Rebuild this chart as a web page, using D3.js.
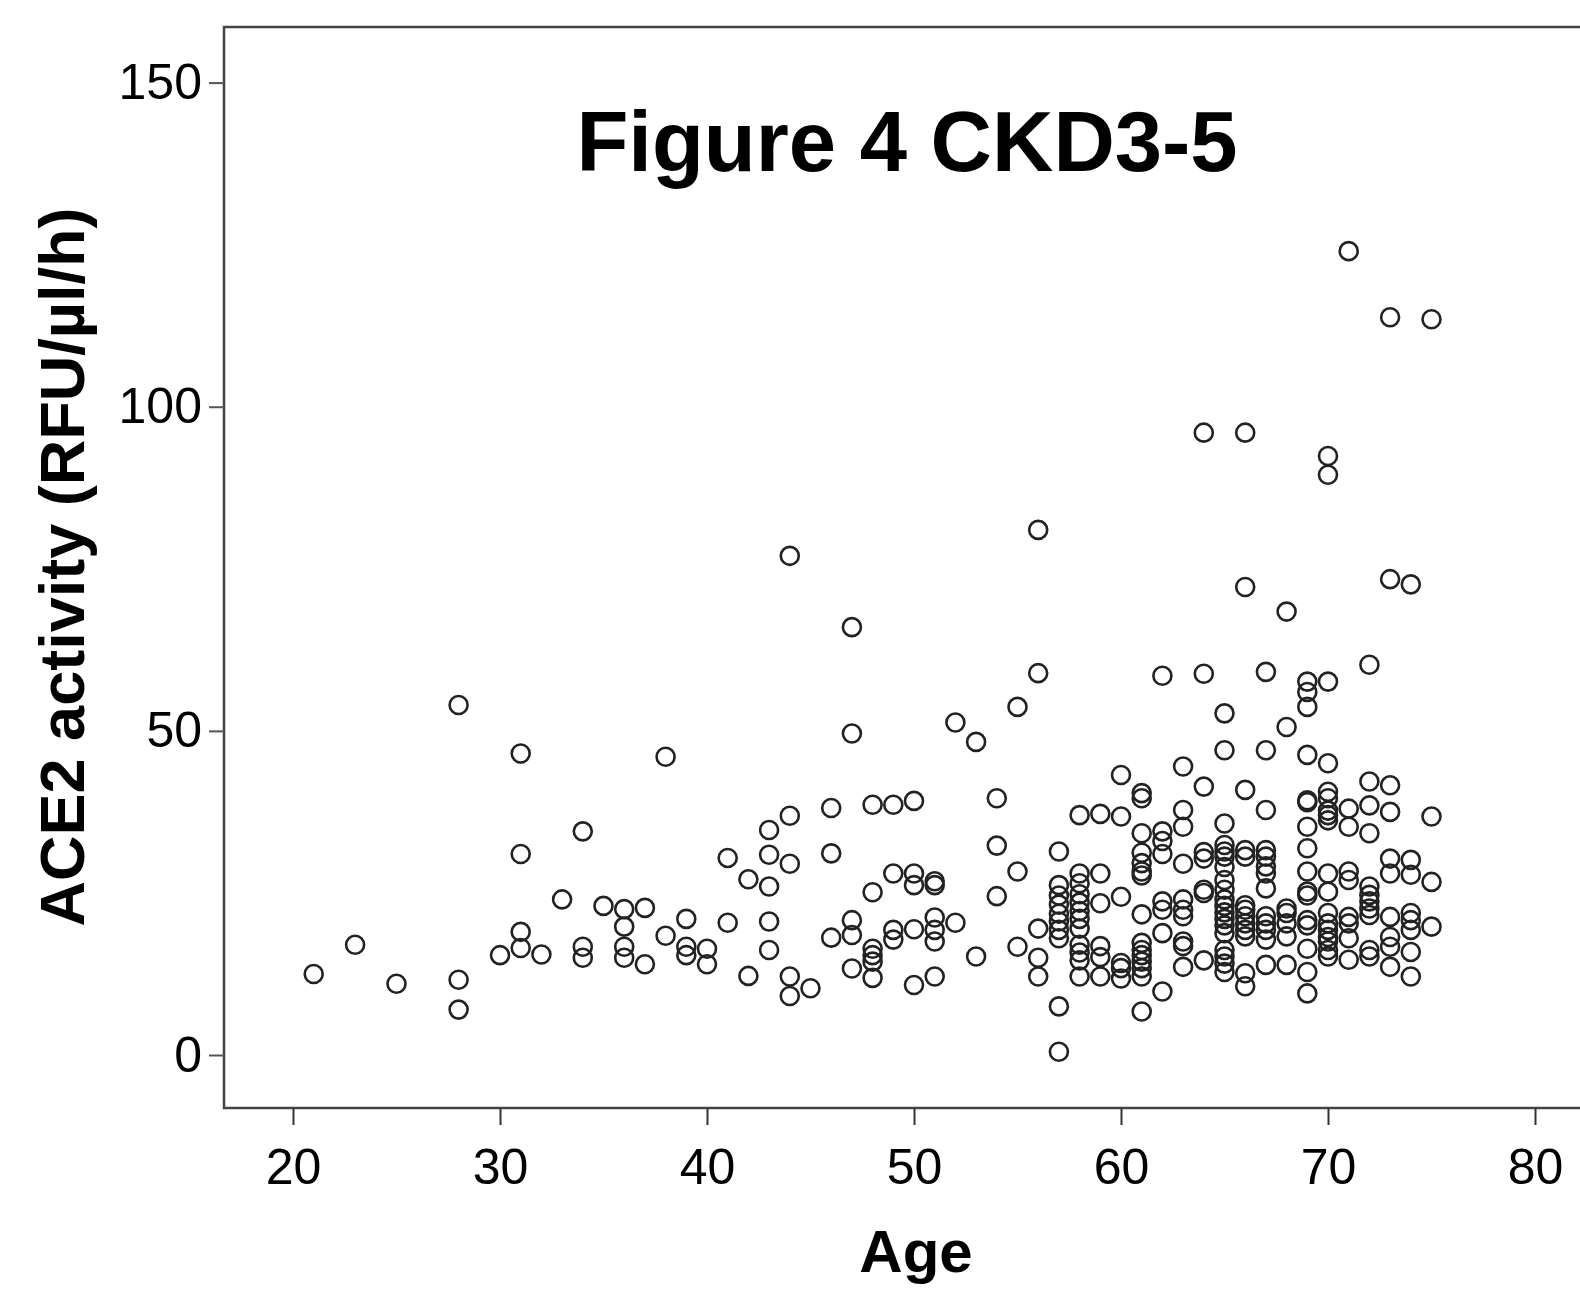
<!DOCTYPE html>
<html>
<head>
<meta charset="utf-8">
<script src="https://cdn.jsdelivr.net/npm/d3@7"></script>
<style>
  body { margin: 0; background: #fff; }
  text { font-family: "Liberation Sans", Arial, sans-serif; fill: #000; }
</style>
</head>
<body>
<svg id="chart" width="1580" height="1299"></svg>
<script>
// ages (x) and the activity values read at each age (y)
var ages = [21, 23, 25, 28, 30, 31, 32, 33, 34, 35, 36, 37, 38, 39, 40, 41, 42, 43, 44, 45,
            46, 47, 48, 49, 50, 51, 52, 53, 54, 55, 56, 57, 58, 59, 60, 61, 62, 63, 64, 65,
            66, 67, 68, 69, 70, 71, 72, 73, 74, 75];

var activity = [
  [12.5], [17], [11], [54, 11.6, 7], [15.4],
  [46.5, 31, 19, 16.5], [15.5], [24], [34.5, 16.7, 15], [23],
  [22.5, 19.8, 16.7, 15], [22.7, 14], [46, 18.4], [21, 16.7, 15.4], [16.4, 14],
  [30.4, 20.4], [27.1, 12.2], [34.7, 30.9, 26, 20.6, 16.2], [77, 36.9, 29.5, 12.1, 9.1], [10.3],
  [38.1, 31.1, 18.1], [66, 49.6, 20.8, 18.5, 13.35], [38.6, 25.1, 16.4, 15.4, 14.4, 11.9],
  [38.6, 28, 19.3, 17.8], [39.2, 28, 26.2, 19.4, 10.8], [26.8, 26.2, 21.2, 19.3, 17.5, 12.1],
  [51.3, 20.4], [48.3, 15.2], [39.6, 32.3, 24.5], [53.7, 28.3, 16.7],
  [81, 58.9, 19.5, 15, 12.1],
  [31.4, 26.2, 24.6, 23.2, 21.8, 20.6, 19.3, 18, 7.5, 0.5],
  [37, 28, 26.5, 24.8, 23.5, 22.2, 21, 19.5, 17, 15.8, 14.6, 12.1],
  [37.2, 28, 23.4, 16.8, 15.1, 12.1],
  [43.2, 36.8, 24.4, 14.2, 13.4, 11.8],
  [40.4, 39.6, 34.2, 31.2, 29.6, 28.3, 27.7, 21.7, 17.3, 16.2, 15.4, 14.4, 13.4, 12.1, 6.7],
  [58.5, 34.5, 33, 31, 23.7, 22.4, 18.8, 9.8],
  [44.5, 37.8, 35.2, 29.5, 24, 22.4, 21.4, 17.5, 16.8, 13.6],
  [96, 58.8, 41.4, 31.3, 30.3, 25.5, 25, 14.6],
  [52.7, 47, 35.7, 32.4, 31.4, 30.6, 29, 27, 25.5, 24, 23, 22, 21, 20, 18.8, 16.2, 15.2, 14.1, 12.8],
  [96, 72.2, 40.9, 31.6, 30.6, 23.1, 22.4, 21.4, 20.3, 19.3, 18.3, 12.6, 10.6],
  [59.1, 47, 37.8, 31.6, 30.6, 29.1, 28, 25.7, 21.4, 20.3, 19.3, 17.8, 13.9],
  [68.4, 50.6, 22.6, 21.9, 20.3, 18.3, 13.9],
  [57.6, 56, 53.7, 46.3, 39.3, 39, 35.2, 31.9, 28.3, 25.2, 24.6, 20.8, 20, 16.4, 12.8, 9.5],
  [92.4, 89.5, 57.6, 45, 40.6, 39.6, 37.7, 37, 36.2, 28, 25.2, 21.9, 20.3, 19.3, 18.2, 17.5, 16.2, 15.2],
  [124, 38, 35.2, 28.3, 27, 21.3, 20.3, 18, 14.7],
  [60.2, 42.2, 38.5, 34.2, 26, 24.7, 23.7, 22.6, 21.6, 16.2, 15.2],
  [113.8, 73.4, 41.6, 37.5, 30.3, 28, 21.3, 18.2, 16.7, 13.6],
  [72.6, 30.1, 27.8, 21.9, 20.8, 19.3, 15.9, 12.1],
  [113.5, 36.8, 26.7, 19.8]
];

var xTicks = [20, 30, 40, 50, 60, 70, 80];
var yTicks = [0, 50, 100, 150];

// flatten into points
var points = [];
for (var i = 0; i < ages.length; i++) {
  for (var j = 0; j < activity[i].length; j++) {
    points.push({ age: ages[i], value: activity[i][j] });
  }
}

var svg = d3.select('#chart');

var x = d3.scaleLinear().domain([20, 80]).range([293, 1535]);
var y = d3.scaleLinear().domain([0, 150]).range([1055, 82.6]);

var frameLeft = 224, frameTop = 27, frameBottom = 1108;

// frame (right side runs off the picture)
svg.append('rect')
  .attr('x', frameLeft)
  .attr('y', frameTop)
  .attr('width', 1700 - frameLeft)
  .attr('height', frameBottom - frameTop)
  .style('fill', 'none')
  .style('stroke', '#444')
  .style('stroke-width', 2.5);

// y axis
var yAxis = svg.append('g')
  .attr('transform', 'translate(' + frameLeft + ',0)')
  .call(d3.axisLeft(y).tickValues(yTicks).tickSize(15).tickPadding(7));
yAxis.select('.domain').remove();
yAxis.selectAll('line').style('stroke', '#555').style('stroke-width', 2);
yAxis.selectAll('text').style('font-size', '50px').attr('font-family', null);

// x axis
var xAxis = svg.append('g')
  .attr('transform', 'translate(0,' + frameBottom + ')')
  .call(d3.axisBottom(x).tickValues(xTicks).tickSize(17).tickPadding(23));
xAxis.select('.domain').remove();
xAxis.selectAll('line').style('stroke', '#333').style('stroke-width', 2);
xAxis.selectAll('text').style('font-size', '50px').attr('font-family', null);

// points
svg.append('g')
  .selectAll('.pt')
  .data(points)
  .enter()
  .append('circle')
  .attr('class', 'pt')
  .attr('cx', function(d) { return x(d.age); })
  .attr('cy', function(d) { return y(d.value); })
  .attr('r', 9)
  .style('fill', 'none')
  .style('stroke', '#222')
  .style('stroke-width', 2.6);

// title
svg.append('text')
  .attr('x', 907)
  .attr('y', 171)
  .attr('text-anchor', 'middle')
  .style('font-size', '85px')
  .style('font-weight', 'bold')
  .text('Figure 4 CKD3-5');

// axis titles
svg.append('text')
  .attr('x', 916)
  .attr('y', 1272)
  .attr('text-anchor', 'middle')
  .style('font-size', '60px')
  .style('font-weight', 'bold')
  .text('Age');

svg.append('text')
  .attr('transform', 'translate(84,567) rotate(-90)')
  .attr('text-anchor', 'middle')
  .style('font-size', '63px')
  .style('font-weight', 'bold')
  .text('ACE2 activity (RFU/µl/h)');
</script>
</body>
</html>
